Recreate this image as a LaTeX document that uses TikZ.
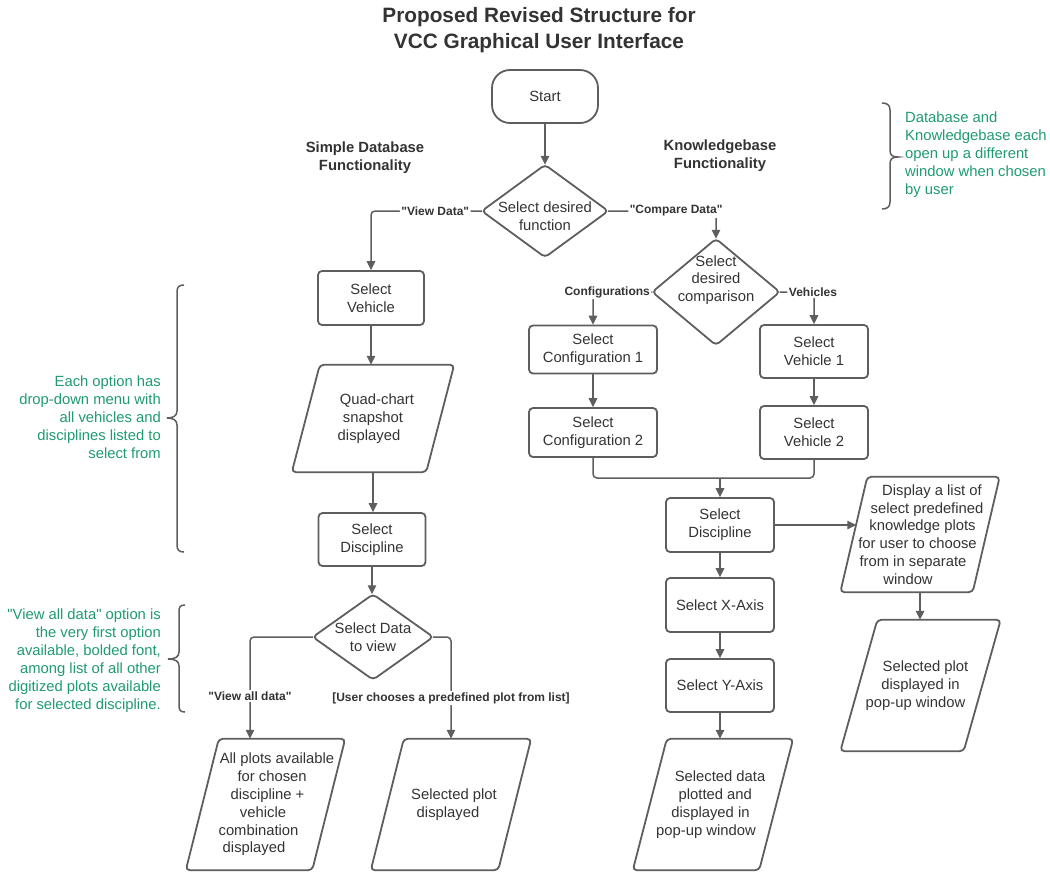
\documentclass[tikz,border=0pt]{standalone}
\usepackage{fontspec}
\setmainfont{Liberation Sans}[Ligatures=TeXOff]
\usetikzlibrary{arrows.meta}
\definecolor{ink}{HTML}{333333}
\definecolor{edgegray}{HTML}{5E5E5E}
\definecolor{notegreen}{HTML}{1F9A72}

% shift one line of centred text sideways (follows the slant of an I/O shape)
\newcommand\shl[2]{\kern#1pt\relax#2\kern-#1pt\relax}
% decision diamond drawn through the anchors of a frame node
\newcommand\drawdec[1]{\draw[shapeline] (#1.north) -- (#1.east) -- (#1.south) -- (#1.west) -- cycle;}
% input/output parallelogram drawn round a frame node, #2 = horizontal slant
\newcommand\drawio[2]{\draw[shapeline] ([xshift=#2/2]#1.north west) -- ([xshift=#2/2]#1.north east) -- ([xshift=-#2/2]#1.south east) -- ([xshift=-#2/2]#1.south west) -- cycle;}

\begin{document}
\begin{tikzpicture}[x=1pt,y=-1pt,
  every node/.style={text=ink, font=\fontsize{14.8}{17.8}\selectfont, align=center, inner sep=0pt},
  shapeline/.style={draw=edgegray, line width=1.8pt, rounded corners=4pt},
  proc/.style={shapeline, minimum width=108, minimum height=54},
  flow/.style={draw=edgegray, line width=1.5pt, rounded corners=4pt, -{Triangle[length=9pt,width=8.5pt]}},
  joinline/.style={draw=edgegray, line width=1.5pt, rounded corners=4pt},
  lbl/.style={font=\bfseries\fontsize{12}{14}\selectfont, fill=white, inner sep=1.5pt},
  head/.style={font=\bfseries\fontsize{14.8}{18}\selectfont},
  annot/.style={text=notegreen, font=\fontsize{14.8}{18}\selectfont},
  bracestroke/.style={draw=edgegray, line width=1.5pt},
]
\useasboundingbox (0,0) rectangle (1050,873);

% titles and headings
\node[font=\bfseries\fontsize{20.8}{26}\selectfont] (title) at (539,30) {Proposed Revised Structure for\\VCC Graphical User Interface};
\node[head] (hsd) at (365,158) {Simple Database\\Functionality};
\node[head] (hkb) at (720,156) {Knowledgebase\\Functionality};

% start and first decision
\node[shapeline, rounded corners=18pt, minimum width=106, minimum height=53] (start) at (545,96.5) {Start};
\node[minimum width=126, minimum height=92] (d1) at (545,211) {};
\drawdec{d1}
\node (d1t) at (545,216) {Select desired\\function};

% database branch
\node[proc, minimum width=106] (sv) at (371,298) {Select\\Vehicle};
\node[minimum width=134, minimum height=107] (quad) at (373,418.5) {\shl{4}{Quad-chart}\\snapshot\\\shl{-4}{displayed}};
\drawio{quad}{28}
\node[proc, minimum width=107, minimum height=53] (disc1) at (372,539.5) {Select\\Discipline};
\node[minimum width=120, minimum height=85] (d3) at (373,637) {Select Data\\to view};
\drawdec{d3}
\node[minimum width=126, minimum height=131] (ap) at (265.5,804.5) {\shl{11.5}{All plots available}\\\shl{6.6}{for chosen}\\\shl{2}{discipline +}\\\shl{-2.5}{vehicle}\\\shl{-7}{combination}\\\shl{-11.5}{displayed}};
\drawio{ap}{33}
\node[minimum width=127, minimum height=131] (sp1) at (451,804.5) {\shl{3}{Selected plot}\\\shl{-3}{displayed}};
\drawio{sp1}{33}

% knowledgebase branch
\node[minimum width=127, minimum height=106] (d2) at (716,292) {};
\drawdec{d2}
\node (d2t) at (716,280) {Select\\desired\\comparison};
\node[proc, minimum width=128, minimum height=48] (cf1) at (593,349.5) {Select\\Configuration 1};
\node[proc, minimum width=128, minimum height=49] (cf2) at (593,432.5) {Select\\Configuration 2};
\node[proc, minimum height=53] (vh1) at (814,351.5) {Select\\Vehicle 1};
\node[proc, minimum height=53] (vh2) at (814,432.5) {Select\\Vehicle 2};
\node[proc] (disc2) at (720,525) {Select\\Discipline};
\node[proc] (xa) at (720,605) {Select X-Axis};
\node[proc, minimum height=53] (ya) at (720,685.5) {Select Y-Axis};
\node[minimum width=126, minimum height=131] (sdp) at (713,804.5) {\shl{7}{Selected data}\\\shl{2.3}{plotted and}\\\shl{-2.5}{displayed in}\\\shl{-7}{pop-up window}};
\drawio{sdp}{34}
\node[minimum width=132, minimum height=115] (dl) at (920,534.5) {\shl{12}{Display a list of}\\\shl{7}{select predefined}\\\shl{2.5}{knowledge plots}\\\shl{-2.5}{for user to choose}\\\shl{-7}{from in separate}\\\shl{-12}{window}};
\drawio{dl}{27}
\node[minimum width=123, minimum height=131] (sp2) at (920.5,685.5) {\shl{5}{Selected plot}\\displayed in\\\shl{-5}{pop-up window}};
\drawio{sp2}{37}

% connectors
\draw[flow] (start.south) -- (d1.north);
\draw[flow] (d1.west) -| node[lbl, pos=0.21] {"View Data"} (sv.north);
\draw[flow] (d1.east) -| node[lbl, pos=0.315] {"Compare Data"} (d2.north);
\draw[flow] (sv.south) -- (sv.south |- quad.north);
\draw[flow] (quad.south) -- (quad.south |- disc1.north);
\draw[flow] (disc1.south) -- (disc1.south |- d3.north);
\draw[flow] (d3.west) -| node[lbl, pos=0.79] {"View all data"} ([xshift=-15.5pt]ap.north);
\draw[flow] (d3.east) -| node[lbl, pos=0.8] {[User chooses a predefined plot from list]} (sp1.north);
\draw[flow] (d2.west) -| node[lbl, pos=0.38] {Configurations} (cf1.north);
\draw[flow] (d2.east) -| node[lbl, pos=0.485] {Vehicles} (vh1.north);
\draw[flow] (cf1.south) -- (cf2.north);
\draw[flow] (vh1.south) -- (vh2.north);
\coordinate (mg) at (720,478);
\draw[joinline] (cf2.south) |- (mg);
\draw[joinline] (vh2.south) |- (mg);
\draw[flow] (mg) -- (disc2.north);
\draw[flow] (disc2.south) -- (xa.north);
\draw[flow] (xa.south) -- (ya.north);
\draw[flow] (ya.south) -- (ya.south |- sdp.north);
\draw[flow, shorten >=-2.5pt] (disc2.east) -- (disc2.east -| dl.west);
\draw[flow] (dl.south) -- (dl.south |- sp2.north);

% side notes with braces
\draw[bracestroke] (184,285) .. controls (179,285) and (177,287) .. (177,292) -- (177,411) .. controls (177,416) and (173,418) .. (167,418) .. controls (173,418) and (177,420) .. (177,425) -- (177,545) .. controls (177,550) and (179,552) .. (184,552);
\node[annot, align=right, anchor=east] (n1) at (161,417) {Each option has\\drop-down menu with\\all vehicles and\\disciplines listed to\\select from};

\draw[bracestroke] (185,605) .. controls (180,605) and (179,607) .. (179,612) -- (179,652) .. controls (179,657) and (175,659) .. (168,659) .. controls (175,659) and (179,661) .. (179,666) -- (179,705) .. controls (179,710) and (180,712) .. (185,712);
\node[annot, align=right, anchor=east] (n2) at (161,661) {"View all data" option is\\the very first option\\available, bolded font,\\among list of all other\\digitized plots available\\for selected discipline.};

\draw[bracestroke] (882,103) .. controls (887,103) and (890,105) .. (890,110) -- (890,150) .. controls (890,155) and (892,157) .. (898,157) .. controls (892,157) and (890,159) .. (890,164) -- (890,202) .. controls (890,207) and (887,209) .. (882,209);
\node[annot, align=left, anchor=west] (n3) at (905,155) {Database and\\Knowledgebase each\\open up a different\\window when chosen\\by user};
\end{tikzpicture}
\end{document}
